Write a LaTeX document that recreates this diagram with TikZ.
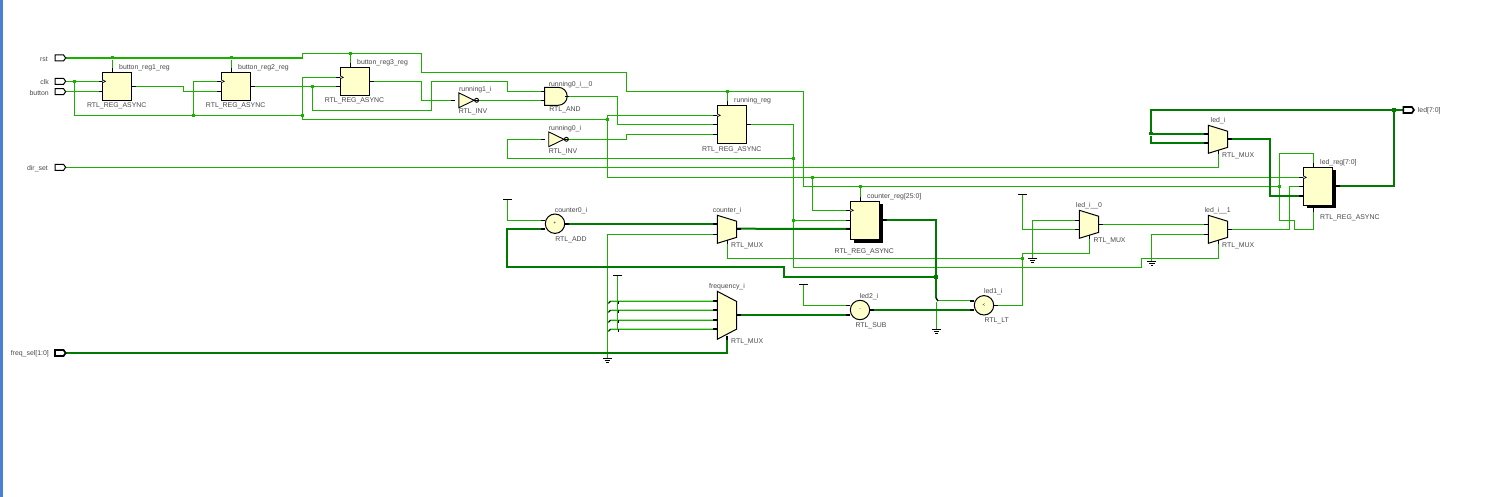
\documentclass[tikz,border=0pt]{standalone}
\usepackage{fontspec}
\usepackage{xcolor}
\setmainfont{Liberation Sans}
\usetikzlibrary{backgrounds,shadows,shapes.geometric,shapes.symbols,shapes.gates.logic.US}
\definecolor{wiregreen}{HTML}{19B000}
\definecolor{busgreen}{HTML}{007A00}
\definecolor{cellyellow}{HTML}{FFFFCC}
\definecolor{labelgray}{HTML}{484848}
\definecolor{barblue}{HTML}{4A7FD6}
\tikzset{
  wire/.style={draw=wiregreen,line width=1.15pt},
  bus/.style={draw=busgreen,line width=2pt},
  stub/.style={draw=black,line width=1pt},
  busstub/.style={draw=black,line width=2pt},
  tiebar/.style={draw=black,line width=0.9pt},
  junction/.style={rectangle,fill=wiregreen,inner sep=0pt,minimum size=3pt},
  busjunction/.style={rectangle,fill=busgreen,inner sep=0pt,minimum size=3.6pt},
  regbox/.style={rectangle,draw=black,fill=cellyellow,line width=1pt,inner sep=0pt,outer sep=0pt,minimum width=29.3pt,minimum height=28pt},
  tallreg/.style={regbox,minimum height=38pt},
  shadowreg/.style={tallreg,general shadow={shadow xshift=3.2pt,shadow yshift=-3.2pt,fill=black}},
  muxcell/.style={trapezium,trapezium angle=70.7,trapezium stretches=true,rotate=-90,draw=black,fill=cellyellow,line width=1pt,inner sep=0pt,outer sep=0pt,minimum height=19.4pt,minimum width=28pt,execute at begin node={\phantom{x}}},
  opcell/.style={circle,draw=black,fill=cellyellow,line width=1pt,inner sep=0pt,outer sep=0pt,minimum size=19.4pt,font=\fontsize{4.5}{5}\selectfont},
  invcell/.style={not gate US,draw=black,fill=cellyellow,line width=0.9pt,inner sep=0pt,outer sep=0pt,logic gate inverted radius=2pt,minimum height=12.7pt,minimum width=14pt},
  andcell/.style={and gate US,draw=black,fill=cellyellow,line width=1pt,inner sep=0pt,outer sep=0pt,minimum height=14pt,minimum width=19.7pt},
  inport/.style={signal,signal to=east,signal from=nowhere,signal pointer angle=110,draw=black,fill=white,line width=1pt,inner sep=0pt,outer sep=0pt,minimum width=10.6pt,minimum height=6pt},
  busport/.style={inport,line width=1.7pt},
  lab/.style={font=\fontsize{6.9}{8}\selectfont,text=labelgray,inner sep=0pt,yshift=-0.7pt},
}

\begin{document}
\begin{tikzpicture}[x=1pt,y=-1pt]
  \useasboundingbox (0,0) rectangle (1509,497);
  \fill[barblue] (0,0) rectangle (3,497);

  % Ports
  \node[inport] (rst) at (59.3,58) {};
  \node[inport] (clk) at (59.3,81.3) {};
  \node[inport] (button) at (59.3,91.7) {};
  \node[inport] (dirset) at (59.3,167.3) {};
  \node[busport] (freqsel) at (59.3,353) {};
  \node[busport] (ledout) at (1407.6,110) {};
  \node[lab,anchor=east] (rstname) at (48,58.5) {rst};
  \node[lab,anchor=east] (clkname) at (49,81.5) {clk};
  \node[lab,anchor=east] (buttonname) at (49,92) {button};
  \node[lab,anchor=east] (dirsetname) at (48,167.5) {dir\_set};
  \node[lab,anchor=east] (freqselname) at (49,353.5) {freq\_sel[1:0]};
  \node[lab,anchor=west] (ledoutname) at (1417.7,110.5) {led[7:0]};

  % Cells
  \node[regbox] (btnone) at (117,86.3) {};
  \node[regbox] (btntwo) at (235.8,86.3) {};
  \node[regbox] (btnthree) at (355,81.3) {};
  \node[tallreg] (runreg) at (732,124.3) {};
  \node[shadowreg] (cntreg) at (865,220.3) {};
  \node[shadowreg] (ledreg) at (1318,186.3) {};
  \node[invcell] (runinvone) at (464.2,100.3) {};
  \node[invcell] (runinvzero) at (554,139.3) {};
  \node[andcell] (runand) at (555.2,96.3) {};
  \node[opcell] (adder) at (555,223.7) {+};
  \node[opcell] (subber) at (860,310) {-};
  \node[opcell] (lessthan) at (984,305.3) {<};
  \node[muxcell] (cntmux) at (727,229.3) {};
  \node[muxcell,minimum width=48pt] (freqmux) at (727,315.3) {};
  \node[muxcell] (muxzero) at (1089,224.3) {};
  \node[muxcell] (muxone) at (1218,229.3) {};
  \node[muxcell] (ledmux) at (1218,139.3) {};

  % Cell names
  \node[lab,anchor=west] (btnonename) at (119,67) {button\_reg1\_reg};
  \node[lab,anchor=west] (btntwoname) at (238,67) {button\_reg2\_reg};
  \node[lab,anchor=west] (btnthreename) at (357,62) {button\_reg3\_reg};
  \node[lab] (btnonetype) at (116.7,105.3) {RTL\_REG\_ASYNC};
  \node[lab] (btntwotype) at (235.6,105.3) {RTL\_REG\_ASYNC};
  \node[lab] (btnthreetype) at (354.5,100.5) {RTL\_REG\_ASYNC};
  \node[lab] (invonename) at (475.3,89) {running1\_i};
  \node[lab] (invonetype) at (473,111.5) {RTL\_INV};
  \node[lab] (andname) at (570.7,84) {running0\_i\_\_0};
  \node[lab] (andtype) at (565,109) {RTL\_AND};
  \node[lab] (invzeroname) at (565,128) {running0\_i};
  \node[lab] (invzerotype) at (563,151) {RTL\_INV};
  \node[lab,anchor=west] (runregname) at (734,100) {running\_reg};
  \node[lab] (runregtype) at (731.7,149) {RTL\_REG\_ASYNC};
  \node[lab] (addername) at (571,210.3) {counter0\_i};
  \node[lab] (addertype) at (571,239) {RTL\_ADD};
  \node[lab] (cntmuxname) at (727,210.3) {counter\_i};
  \node[lab,anchor=west] (cntmuxtype) at (731,245) {RTL\_MUX};
  \node[lab,anchor=west] (cntregname) at (867,196) {counter\_reg[25:0]};
  \node[lab] (cntregtype) at (864.3,251) {RTL\_REG\_ASYNC};
  \node[lab] (freqmuxname) at (727,286) {frequency\_i};
  \node[lab,anchor=west] (freqmuxtype) at (731,341) {RTL\_MUX};
  \node[lab] (subbername) at (869,296) {led2\_i};
  \node[lab] (subbertype) at (871,325) {RTL\_SUB};
  \node[lab] (lessname) at (993.3,291) {led1\_i};
  \node[lab] (lesstype) at (996.7,320) {RTL\_LT};
  \node[lab] (muxzeroname) at (1089,205) {led\_i\_\_0};
  \node[lab,anchor=west] (muxzerotype) at (1093.3,240) {RTL\_MUX};
  \node[lab] (muxonename) at (1217.7,210) {led\_i\_\_1};
  \node[lab,anchor=west] (muxonetype) at (1222,245) {RTL\_MUX};
  \node[lab] (ledmuxname) at (1218,120.3) {led\_i};
  \node[lab,anchor=west] (ledmuxtype) at (1222,155) {RTL\_MUX};
  \node[lab,anchor=west] (ledregname) at (1320,162) {led\_reg[7:0]};
  \node[lab,anchor=west] (ledregtype) at (1320,217) {RTL\_REG\_ASYNC};

  % Pins, left side
  \foreach \nm/\px/\py in {btnoneck/102.5/81.3,btnoned/102.5/91.7,btntwock/221.3/81.3,btntwod/221.3/91.7,
    btnthreeck/340.3/77.3,btnthreed/340.3/86.3,invonea/455.3/100.3,anda/545.3/91.3,andb/545.3/100.3,
    invzeroa/545.3/139.3,runck/717.3/115.3,rund/717.3/124.3,runce/717.3/134.3,addera/545.3/220.3,
    cntmuxb/717.3/234.3,cntck/850.3/210.3,cntce/850.3/220.3,subbera/850.3/305.3,muxzeroa/1079.3/220.3,
    muxzerob/1079.3/229.3,muxonea/1208.3/224.3,muxoneb/1208.3/234.3,ledck/1303.3/177.3,ledce/1303.3/186.3} {
    \coordinate (\nm) at (\px,\py);
    \draw[stub] (\nm) -- ++(-4,0);
  }
  \foreach \nm/\px/\py in {adderb/545.3/229,cntmuxa/717.3/223.7,cntd/850.3/229,subberb/850.3/315,
    lessa/974.3/300.7,lessb/974.3/310,ledmuxa/1208.3/133.7,ledmuxb/1208.3/142.7,ledd/1303.3/195.7,
    freqa/717.3/301.3,freqb/717.3/310.3,freqc/717.3/320.3,freqd/717.3/329.3} {
    \coordinate (\nm) at (\px,\py);
    \draw[busstub] (\nm) -- ++(-4,0);
  }
  % Pins, right side
  \foreach \nm/\px/\py in {btnoneq/131.7/86.3,btntwoq/250.5/86.3,btnthreeq/369.7/81.3,invoney/475/100.3,
    andy/565/96.7,invzeroy/564/139.3,runq/746.7/124.3,lessy/993.7/305.3,muxzeroy/1098.7/224.3,muxoney/1227.7/229.3} {
    \coordinate (\nm) at (\px,\py);
    \draw[stub] (\nm) -- ++(4,0);
  }
  \foreach \nm/\px/\py in {addery/564.7/223.7,cntmuxy/736.7/228.7,freqy/736.7/315,cntq/882.7/220,
    subbery/869.7/310,ledmuxy/1227.7/138.7,ledq/1335.7/186} {
    \coordinate (\nm) at (\px,\py);
    \draw[busstub] (\nm) -- ++(4,0);
  }
  % Pins, top and bottom
  \foreach \nm/\px/\py in {btnoner/112.3/72.3,btntwor/231.3/72.3,btnthreer/350.3/67.3,runr/727.3/105.3,cntr/860.3/201.3,ledr/1313.3/167.3} {
    \coordinate (\nm) at (\px,\py);
    \draw[stub] (\nm) -- ++(0,-4);
  }
  \foreach \nm/\px/\py in {cntmuxs/727.3/240,muxzeros/1089.3/235,muxones/1218.3/240,ledmuxs/1218.3/150,leds/1313.3/208.3} {
    \coordinate (\nm) at (\px,\py);
    \draw[stub] (\nm) -- ++(0,4);
  }
  \coordinate (freqs) at (727.3,336);
  \draw[busstub] (freqs) -- ++(0,4);
  % Clock marks
  \foreach \c in {btnoneck,btntwock,btnthreeck,runck,cntck,ledck} {
    \draw[draw=black,fill=white,line width=0.6pt] (\c) ++(0,-1.5) -- ++(3,1.5) -- ++(-3,1.5);
  }

  % Junctions
  \node[junction] (rsta) at (112.3,58) {};
  \node[junction] (rstb) at (231.3,58) {};
  \node[junction] (rstc) at (350.3,53.3) {};
  \node[junction] (rstd) at (727.3,91.7) {};
  \node[junction] (rste) at (860.3,186.3) {};
  \node[junction] (rstf) at (1279.3,186.3) {};
  \node[junction] (clka) at (74.3,81.3) {};
  \node[junction] (clkb) at (193.3,115.3) {};
  \node[junction] (clkc) at (302.3,115.3) {};
  \node[junction] (clkd) at (607.3,119.3) {};
  \node[junction] (clke) at (812.3,177.3) {};
  \node[junction] (btntwotap) at (312.3,86.3) {};
  \node[junction] (runtapa) at (793.3,158.3) {};
  \node[junction] (runtapb) at (793.3,220.3) {};
  \node[junction] (lesstap) at (1022.3,258.3) {};
  \node[busjunction] (cnttap) at (936,276.7) {};
  \node[busjunction] (ledtapa) at (1394,110) {};
  \node[busjunction] (ledtapb) at (1151,133.7) {};

  % Tie cells
  \coordinate (tiea) at (507.3,199.7);
  \coordinate (tieb) at (617.3,275.3);
  \coordinate (tiec) at (803.3,284.3);
  \coordinate (tied) at (1022.3,194.3);
  \coordinate (gnda) at (607.3,358.3);
  \coordinate (gndb) at (1032.3,258.3);
  \coordinate (gndc) at (1151.7,261.7);
  \coordinate (gndd) at (936.3,329.3);
  \foreach \t in {tiea,tieb,tiec,tied} {
    \draw[tiebar] (\t) ++(-4.3,0) -- ++(8.6,0);
  }
  \foreach \g in {gnda,gndb,gndc,gndd} {
    \draw[tiebar] (\g) ++(-4.3,0) -- ++(8.6,0);
    \draw[tiebar] (\g) ++(-2.8,2) -- ++(5.6,0);
    \draw[tiebar] (\g) ++(-1.2,4) -- ++(2.4,0);
  }
  \draw[busstub,line width=1.4pt] (936,298) -- (938,301);

  % Nets
  \begin{scope}[on background layer]
    \draw[wire] (rst.east) -- (rsta) -- (rstb) -- (302.3,58) -- (302.3,53.3) -- (rstc) -- (421.7,53.3) -- (421.7,72.3)
      -- (626.7,72.3) -- (626.7,91.7) -- (rstd) -- (803.3,91.7) -- (803.3,186.3) -- (rste) -- (rstf);
    \draw[wire] (rsta) -- (btnoner);
    \draw[wire] (rstb) -- (btntwor);
    \draw[wire] (rstc) -- (btnthreer);
    \draw[wire] (rstd) -- (runr);
    \draw[wire] (rste) -- (cntr);
    \draw[wire] (rstf) -- (1279.3,153.3) -| (ledr);
    \draw[wire] (rstf) -- (1279.3,220.3) -- (1294.3,220.3) -- (1294.3,229.3) -| (leds);
    \draw[wire] (clk.east) -- (clka) -- (btnoneck);
    \draw[wire] (clka) |- (clkb) -- (clkc) -- (302.3,119.3) -- (clkd) -- (607.3,177.3) -- (clke) -- (ledck);
    \draw[wire] (clkb) |- (btntwock);
    \draw[wire] (clkc) |- (btnthreeck);
    \draw[wire] (clkd) |- (runck);
    \draw[wire] (clke) |- (cntck);
    \draw[wire] (button.east) -- (btnoned);
    \draw[wire] (dirset.east) -- (1218.3,167.3) -- (ledmuxs);
    \draw[wire] (btnoneq) -- (183.3,86.3) -- (183.3,91.7) -- (btntwod);
    \draw[wire] (btntwoq) -- (btntwotap) -- (btnthreed);
    \draw[wire] (btntwotap) |- (431.7,110.3) -- (431.7,81.3) -- (507.3,81.3) -- (507.3,91.3) -- (anda);
    \draw[wire] (btnthreeq) -- (421.7,81.3) -- (421.7,100.3) -- (invonea);
    \draw[wire] (invoney) -- (andb);
    \draw[wire] (andy) -- (617.7,96.7) -- (617.7,124.3) -- (rund);
    \draw[wire] (invzeroy) -- (626.7,139.3) -- (626.7,134.3) -- (runce);
    \draw[wire] (runq) -- (793.3,124.3) -- (runtapa) -- (runtapb) -- (793.3,267.3) -- (1141.7,267.3) -- (1141.7,258.3) -| (muxones);
    \draw[wire] (runtapa) -| (507.3,139.3) -- (invzeroa);
    \draw[wire] (runtapb) -- (cntce);
    \draw[wire] (tiea) |- (addera);
    \draw[bus] (addery) -- (cntmuxa);
    \draw[bus] (cntmuxy) -- (cntd);
    \draw[wire] (gnda) |- (cntmuxb);
    \draw[wire] (cntmuxs) |- (lesstap);
    \draw[bus] (cntq) -- (936,220) -- (cnttap) -- (784,276.7) -- (784,267) -- (506.7,267) -- (506.7,229) -- (adderb);
    \draw[bus] (cnttap) -- (936,298);
    \draw[wire,line width=1.5pt] (938,300.7) -- (lessa);
    \draw[wire] (936.3,302) -- (gndd);
    \draw[bus] (freqy) -- (subberb);
    \draw[bus] (subbery) -- (lessb);
    \draw[wire] (tiec) |- (subbera);
    \draw[bus] (freqsel.east) -- (727.3,353) -- (freqs);
    \draw[wire] (tieb) -- (617.3,329);
    \foreach \p/\py in {freqa/301.3,freqb/310.3,freqc/320.3,freqd/329.3} {
      \draw[wire] (607.3,\py+3) -- (610.5,\py) -- (\p);
    }
    \draw[wire] (lessy) -| (lesstap);
    \draw[wire] (lesstap) -- (1022.3,253.3) -| (muxzeros);
    \draw[wire] (tied) |- (muxzerob);
    \draw[wire] (gndb) |- (muxzeroa);
    \draw[wire] (muxzeroy) -- (muxonea);
    \draw[wire] (gndc) |- (muxoneb);
    \draw[wire] (muxoney) -- (1289.3,229.3) |- (ledce);
    \draw[bus] (ledq) -| (ledtapa) -- (ledout.west);
    \draw[bus] (ledtapa) -| (ledtapb) -- (ledmuxa);
    \draw[bus] (ledtapb) |- (ledmuxb);
    \draw[bus] (ledmuxy) -| (1270,195.7) -- (ledd);
  \end{scope}
  % Tie ticks
  \foreach \py in {301.3,310.3,320.3,329.3} {
    \draw[stub] (608.8,\py+1.6) -- (610.5,\py);
    \draw[stub] (618,\py) -- (618,\py+2.5);
  }
\end{tikzpicture}
\end{document}
